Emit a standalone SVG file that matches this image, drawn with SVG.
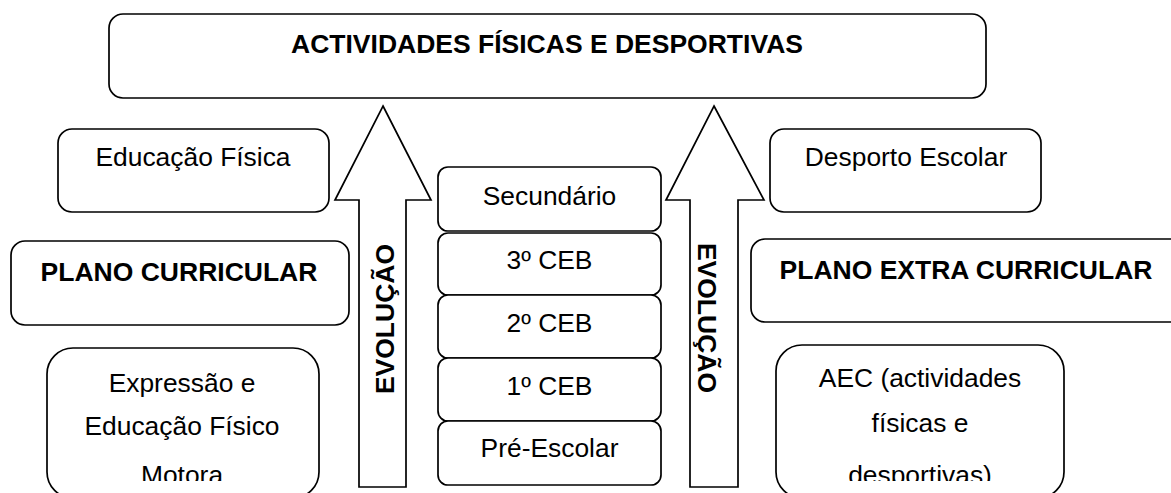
<svg xmlns="http://www.w3.org/2000/svg" width="1171" height="493" viewBox="0 0 1171 493">
<defs>
<style>
.box{fill:#fff;stroke:#000;stroke-width:1.7}
.arrow{fill:#fff;stroke:#000;stroke-width:1.7;stroke-linejoin:miter}
text{font-family:"Liberation Sans",Arial,sans-serif;font-size:26.4px;fill:#000;text-anchor:middle}
.b{font-weight:bold;font-size:26.5px}
</style>
<clipPath id="clipL"><rect x="40" y="340" width="290" height="141"/></clipPath>
<clipPath id="clipR"><rect x="770" y="340" width="300" height="141"/></clipPath>
</defs>
<rect width="1171" height="493" fill="#fff"/>
<g id="connectors">
<path class="arrow" d="M383,106 L431,200 L406,200 L406,487 L359,487 L359,200 L335,200 Z"/>
<text class="b" transform="translate(394,319) rotate(-90)">EVOLUÇÃO</text>
<path class="arrow" d="M714,106 L764,200 L738,200 L738,487 L690,487 L690,200 L666,200 Z"/>
<text class="b" transform="translate(698,318) rotate(90)">EVOLUÇÃO</text>
</g>
<g id="top">
<rect class="box" x="109" y="14" width="877" height="84" rx="14"/>
<text class="b" x="547" y="53">ACTIVIDADES FÍSICAS E DESPORTIVAS</text>
</g>
<g id="educacao-fisica">
<rect class="box" x="58" y="129" width="271" height="83" rx="14"/>
<text x="193" y="166">Educação Física</text>
</g>
<g id="desporto-escolar">
<rect class="box" x="770" y="129" width="271" height="83" rx="14"/>
<text x="906" y="166">Desporto Escolar</text>
</g>
<g id="secundario">
<rect class="box" x="438" y="167" width="223" height="64" rx="10"/>
<text x="549.5" y="205">Secundário</text>
</g>
<g id="ceb3">
<rect class="box" x="438" y="233" width="223" height="62" rx="10"/>
<text x="549.5" y="269">3º CEB</text>
</g>
<g id="ceb2">
<rect class="box" x="438" y="295" width="223" height="63" rx="10"/>
<text x="549.5" y="332">2º CEB</text>
</g>
<g id="ceb1">
<rect class="box" x="438" y="358" width="223" height="63" rx="10"/>
<text x="549.5" y="395">1º CEB</text>
</g>
<g id="pre-escolar">
<rect class="box" x="438" y="421" width="223" height="64" rx="10"/>
<text x="549.5" y="457">Pré-Escolar</text>
</g>
<g id="plano-curricular">
<rect class="box" x="11" y="241" width="338" height="84" rx="14"/>
<text class="b" x="179" y="281">PLANO CURRICULAR</text>
</g>
<g id="plano-extra-curricular">
<rect class="box" x="751" y="239" width="440" height="83" rx="14"/>
<text class="b" x="966" y="279">PLANO EXTRA CURRICULAR</text>
</g>
<g id="expressao">
<rect class="box" x="47" y="348" width="272" height="150" rx="26"/>
<g clip-path="url(#clipL)">
<text x="182" y="392">Expressão e</text>
<text x="182" y="435">Educação Físico</text>
<text x="182" y="484">Motora</text>
</g>
</g>
<g id="aec">
<rect class="box" x="776" y="345" width="288" height="153" rx="26"/>
<g clip-path="url(#clipR)">
<text x="920" y="387">AEC (actividades</text>
<text x="920" y="432">físicas e</text>
<text x="920" y="484">desportivas)</text>
</g>
</g>
</svg>
